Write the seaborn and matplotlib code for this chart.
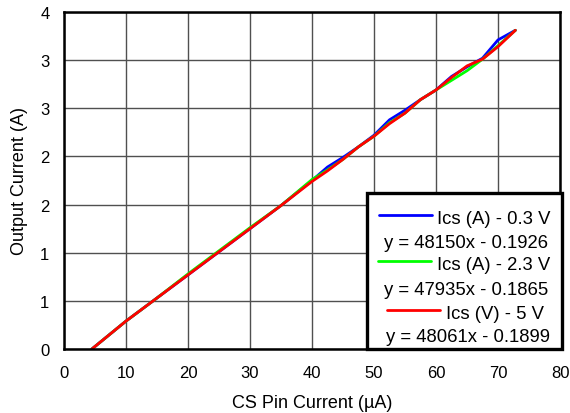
import matplotlib
matplotlib.use("Agg")
import matplotlib.pyplot as plt
from matplotlib.patches import Rectangle
from matplotlib.lines import Line2D
import seaborn as sns
import pandas as pd

# ---- data ----
x_blue = [4.5, 10, 15, 20, 25, 30, 35, 40, 42.5, 45, 47.5, 50, 52.5, 55, 57.5, 60, 62.5, 65, 67.5, 70, 72.8]
y_blue = [0.00, 0.29, 0.53, 0.77, 1.01, 1.25, 1.49, 1.75, 1.89, 1.99, 2.10, 2.22, 2.38, 2.48, 2.59, 2.69, 2.83, 2.93, 3.02, 3.21, 3.31]

x_green = [4.5, 10, 15, 20, 25, 30, 35, 40, 42.5, 45, 47.5, 50, 52.5, 55, 57.5, 60, 62.5, 65, 67.5, 70, 72.8]
y_green = [0.00, 0.29, 0.53, 0.78, 1.02, 1.26, 1.49, 1.76, 1.86, 1.97, 2.10, 2.21, 2.35, 2.45, 2.59, 2.69, 2.79, 2.89, 3.01, 3.15, 3.31]

x_red = [4.5, 10, 15, 20, 25, 30, 35, 40, 42.5, 45, 47.5, 50, 52.5, 55, 57.5, 60, 62.5, 65, 67.5, 70, 72.8]
y_red = [0.00, 0.29, 0.53, 0.77, 1.01, 1.25, 1.49, 1.74, 1.85, 1.97, 2.10, 2.21, 2.34, 2.45, 2.59, 2.69, 2.82, 2.94, 3.01, 3.14, 3.31]

series_names = ["Ics (A) - 0.3 V", "Ics (A) - 2.3 V", "Ics (V) - 5 V"]
equations = ["y = 48150x - 0.1926", "y = 47935x - 0.1865", "y = 48061x - 0.1899"]
colors = ["#0000FF", "#00FF00", "#FF0000"]

xticks = [0, 10, 20, 30, 40, 50, 60, 70, 80]
yticks = [0, 0.5, 1.0, 1.5, 2.0, 2.5, 3.0, 3.5]
ytick_labels = ["0", "1", "1", "2", "2", "3", "3", "4"]

xlabel = "CS Pin Current (µA)"
ylabel = "Output Current (A)"

# ---- build long table ----
frames = []
for name, xs, ys in zip(series_names, [x_blue, x_green, x_red], [y_blue, y_green, y_red]):
    frames.append(pd.DataFrame({"x": xs, "y": ys, "series": name}))
df = pd.concat(frames, ignore_index=True)

sns.set_theme(style="white")
plt.rcParams["font.family"] = ["Liberation Sans", "DejaVu Sans"]

W, H = 570, 414
fig = plt.figure(figsize=(W / 100, H / 100), dpi=100)
ax = fig.add_axes([64 / W, 1 - 350 / H, (560 - 64) / W, (350 - 13) / H])

sns.lineplot(data=df, x="x", y="y", hue="series", palette=colors,
             hue_order=series_names, linewidth=2.0, ax=ax, legend=False,
             sort=False, estimator=None)

ax.set_xlim(0, 80)
ax.set_ylim(0, 3.5)
ax.set_xticks(xticks)
ax.set_xticklabels([str(t) for t in xticks])
ax.set_yticks(yticks)
ax.set_yticklabels(ytick_labels)
ax.tick_params(axis="both", length=0, labelsize=12, colors="black")
ax.tick_params(axis="y", pad=10.5)
ax.tick_params(axis="x", pad=11.5)

ax.grid(True, color="#505050", linewidth=1.0)
ax.set_axisbelow(True)
for s in ax.spines.values():
    s.set_color("black")
    s.set_linewidth(1.8)
    s.set_visible(True)

ax.set_xlabel(xlabel, fontsize=13, color="black")
ax.set_ylabel(ylabel, fontsize=13, color="black")
ax.xaxis.set_label_coords(0.5, (350 - 408) / 337)
ax.xaxis.label.set_verticalalignment("baseline")
ax.yaxis.set_label_coords((20 - 64) / 496, 0.5)
ax.yaxis.label.set_verticalalignment("center")

# ---- custom legend (Excel style with trendline equations) ----
def fx(px):
    return px / W

def fy(py):
    return 1 - py / H

box = Rectangle((fx(367), fy(350)), fx(562) - fx(367), fy(194) - fy(350),
                transform=fig.transFigure, facecolor="white", edgecolor="black",
                linewidth=2.4, zorder=10)
fig.add_artist(box)

handle_y = [216, 262, 311]
handle_x = [(379, 432), (378, 431), (387, 440)]
label_x = [437, 437, 446]
label_base = [224, 270.5, 319]
eq_x = [384, 384, 386.5]
eq_base = [248.3, 295, 341.7]

lines = ax.get_lines()
for i in range(3):
    col = lines[i].get_color() if i < len(lines) else colors[i]
    fig.add_artist(Line2D([fx(handle_x[i][0]), fx(handle_x[i][1])],
                          [fy(handle_y[i]), fy(handle_y[i])],
                          transform=fig.transFigure, color=col, linewidth=2.0, zorder=11))
    fig.text(fx(label_x[i]), fy(label_base[i]), series_names[i], fontsize=13.3,
             va="baseline", ha="left", color="black", zorder=11)
    fig.text(fx(eq_x[i]), fy(eq_base[i]), equations[i], fontsize=13.3,
             va="baseline", ha="left", color="black", zorder=11)

fig.savefig("out.png", dpi=100)
